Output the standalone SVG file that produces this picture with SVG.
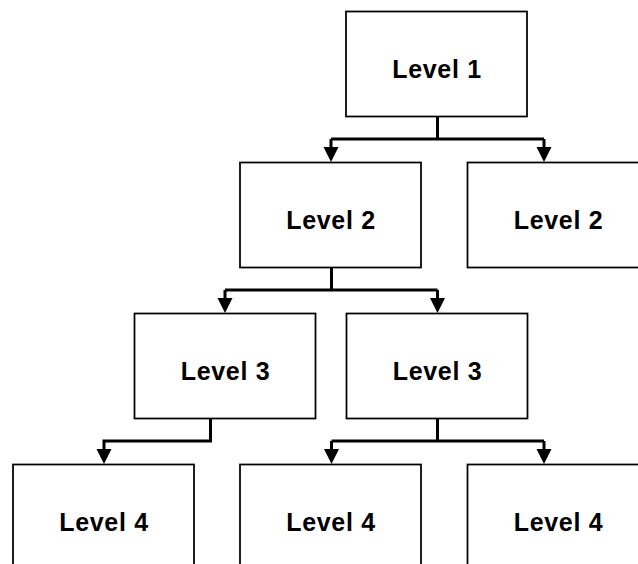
<svg xmlns="http://www.w3.org/2000/svg" width="638" height="564" viewBox="0 0 638 564">
<style>
.box{fill:#fff;stroke:#000;stroke-width:1.75}
.lbl{font-family:"Liberation Sans",Arial,sans-serif;font-weight:bold;font-size:25px;letter-spacing:0.7px;text-anchor:middle;fill:#000}
.con{fill:none;stroke:#000;stroke-width:3}
.ah{fill:#000;stroke:none}
</style>
<defs>
<path id="ah" class="ah" d="M-7.5,-15 L7.5,-15 L0,0 Z"/>
</defs>
<rect width="638" height="564" fill="#fff"/>
<g id="connectors">
<path class="con" d="M437.5,117 V139 M331,139 H544 M331,139 V148 M544,139 V148"/>
<use href="#ah" x="331" y="162"/>
<use href="#ah" x="544" y="162"/>
<path class="con" d="M331.5,268 V290 M225,290 H437.5 M225,290 V299 M437.5,290 V299"/>
<use href="#ah" x="225" y="313"/>
<use href="#ah" x="437.5" y="313"/>
<path class="con" d="M210.5,419 V441 H104 V450"/>
<use href="#ah" x="104" y="464"/>
<path class="con" d="M437.5,419 V441 M331.5,441 H544 M331.5,441 V450 M544,441 V450"/>
<use href="#ah" x="331.5" y="464"/>
<use href="#ah" x="544" y="464"/>
</g>
<g id="l1"><rect class="box" x="346" y="11.5" width="181" height="105"/><text class="lbl" x="437" y="78">Level 1</text></g>
<g id="l2a"><rect class="box" x="240" y="162.5" width="181" height="105"/><text class="lbl" x="331" y="229">Level 2</text></g>
<g id="l2b"><rect class="box" x="467.5" y="162.5" width="181" height="105"/><text class="lbl" x="558.5" y="229">Level 2</text></g>
<g id="l3a"><rect class="box" x="134.5" y="313.5" width="181" height="105"/><text class="lbl" x="225.5" y="379.5">Level 3</text></g>
<g id="l3b"><rect class="box" x="346.5" y="313.5" width="181" height="105"/><text class="lbl" x="437.5" y="379.5">Level 3</text></g>
<g id="l4a"><rect class="box" x="13" y="464.5" width="181" height="105"/><text class="lbl" x="104" y="530.5">Level 4</text></g>
<g id="l4b"><rect class="box" x="240" y="464.5" width="181" height="105"/><text class="lbl" x="331" y="530.5">Level 4</text></g>
<g id="l4c"><rect class="box" x="467.5" y="464.5" width="181" height="105"/><text class="lbl" x="558.5" y="530.5">Level 4</text></g>
</svg>
